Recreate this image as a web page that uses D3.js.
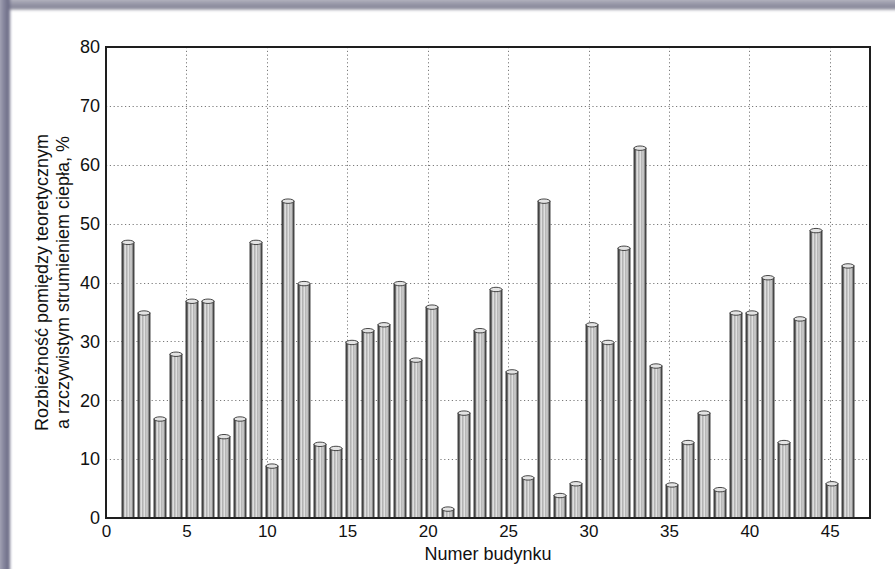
<!DOCTYPE html>
<html>
<head>
<meta charset="utf-8">
<script src="https://cdn.jsdelivr.net/npm/d3@7/dist/d3.min.js"></script>
<style>
  html, body { margin: 0; padding: 0; background: #fff; }
  svg { display: block; font-family: "Liberation Sans", Arial, sans-serif; }
</style>
</head>
<body>
<svg id="chart" width="895" height="569"></svg>
<script>
// Building numbers and heat-flux discrepancy (%)
const buildings = d3.range(1, 47);
const discrepancy = [
  47, 35, 17, 28, 37, 37, 14, 17, 47, 9,
  54, 40, 12.7, 12, 30, 32, 33, 40, 27, 36,
  1.7, 18, 32, 39, 25, 7, 54, 4, 6, 33,
  30, 46, 63, 26, 5.8, 13, 18, 5, 35, 35,
  41, 13, 34, 49, 6, 43
];
const xTicks = [0, 5, 10, 15, 20, 25, 30, 35, 40, 45];
const yTicks = [0, 10, 20, 30, 40, 50, 60, 70, 80];
const xTitle = "Numer budynku";
const yTitleLines = ["Rozbieżność pomiędzy teoretycznym", "a rzczywistym strumieniem ciepła, %"];

const svg = d3.select("#chart");
const W = 895, H = 569;
const plot = { left: 106, right: 870, top: 47, bottom: 518 };

const defs = svg.append("defs");

// Soft frame along the top and left edges
const blur = defs.append("filter").attr("id", "soft").attr("x", "-20%").attr("y", "-20%").attr("width", "140%").attr("height", "140%");
blur.append("feGaussianBlur").attr("stdDeviation", 1.6);

const gTop = defs.append("linearGradient").attr("id", "frameTop").attr("x1", 0).attr("y1", 0).attr("x2", 0).attr("y2", 1);
gTop.append("stop").attr("offset", "0%").attr("stop-color", "#c8c8d2");
gTop.append("stop").attr("offset", "55%").attr("stop-color", "#9a9aaa");
gTop.append("stop").attr("offset", "100%").attr("stop-color", "#7e7e90");

const gLeft = defs.append("linearGradient").attr("id", "frameLeft").attr("x1", 0).attr("y1", 0).attr("x2", 1).attr("y2", 0);
gLeft.append("stop").attr("offset", "0%").attr("stop-color", "#bcbccc");
gLeft.append("stop").attr("offset", "55%").attr("stop-color", "#86869c");
gLeft.append("stop").attr("offset", "100%").attr("stop-color", "#646480");

svg.append("rect").attr("width", W).attr("height", H).attr("fill", "#fff");
svg.append("rect").attr("x", -4).attr("y", -4).attr("width", W + 8).attr("height", 13.5)
  .attr("fill", "url(#frameTop)").attr("filter", "url(#soft)");
svg.append("rect").attr("x", -4).attr("y", -4).attr("width", 14).attr("height", H + 8)
  .attr("fill", "url(#frameLeft)").attr("filter", "url(#soft)");

// Cylinder shading for bars
const gBar = defs.append("linearGradient").attr("id", "barShade").attr("x1", 0).attr("y1", 0).attr("x2", 1).attr("y2", 0);
[
  ["0%", "#444"], ["12%", "#666"], ["20%", "#c4c4c4"], ["30%", "#e0e0e0"],
  ["40%", "#a4a4a4"], ["52%", "#eaeaea"], ["64%", "#b0b0b0"], ["76%", "#d6d6d6"],
  ["86%", "#969696"], ["94%", "#606060"], ["100%", "#444"]
].forEach(([o, c]) => gBar.append("stop").attr("offset", o).attr("stop-color", c));

// Scales
const x = d3.scaleLinear().domain([0, 47.5]).range([plot.left, plot.right]);
const y = d3.scaleLinear().domain([0, 80]).range([plot.bottom, plot.top]);
const xb = d3.scaleBand().domain(buildings)
  .range([x(0.87), x(46.63)]).paddingInner(0.25).paddingOuter(0.125);

// Grid
const grid = svg.append("g").attr("stroke", "#7a7a7a").attr("stroke-width", 1).attr("stroke-dasharray", "1.2,2.6");
grid.selectAll("line.v").data(xTicks.filter(t => t > 0)).join("line")
  .attr("x1", d => Math.round(x(d)) + 0.5).attr("x2", d => Math.round(x(d)) + 0.5)
  .attr("y1", plot.top).attr("y2", plot.bottom);
grid.selectAll("line.h").data(yTicks.filter(t => t > 0 && t < 80)).join("line")
  .attr("y1", d => Math.round(y(d)) + 0.5).attr("y2", d => Math.round(y(d)) + 0.5)
  .attr("x1", plot.left).attr("x2", plot.right);

// Bars
const capH = 2.2;
const bars = svg.append("g");
const rows = buildings.map((b, i) => ({ b, v: discrepancy[i] }));
bars.selectAll("rect").data(rows).join("rect")
  .attr("x", d => xb(d.b))
  .attr("y", d => y(d.v) + capH * 0.5)
  .attr("width", xb.bandwidth())
  .attr("height", d => y(0) - y(d.v) - capH * 0.5)
  .attr("fill", "url(#barShade)")
  .attr("stroke", "#333").attr("stroke-width", 0.9);
bars.selectAll("ellipse").data(rows).join("ellipse")
  .attr("cx", d => xb(d.b) + xb.bandwidth() / 2)
  .attr("cy", d => y(d.v) + capH * 0.5)
  .attr("rx", xb.bandwidth() / 2)
  .attr("ry", capH)
  .attr("fill", "#e4e4e4")
  .attr("stroke", "#333").attr("stroke-width", 0.9);

// Axes
const xAxis = d3.axisBottom(x).tickValues(xTicks).tickSize(0).tickPadding(8).tickFormat(d3.format("d"));
const yAxis = d3.axisLeft(y).tickValues(yTicks).tickSize(0).tickPadding(6).tickFormat(d3.format("d"));
const gx = svg.append("g").attr("transform", `translate(0,${plot.bottom})`).call(xAxis);
const gy = svg.append("g").attr("transform", `translate(${plot.left},0)`).call(yAxis);
[gx, gy].forEach(g => {
  g.select(".domain").remove();
  g.selectAll("text").attr("font-size", 18).attr("fill", "#111")
    .attr("font-family", "'Liberation Sans', Arial, sans-serif");
});
gx.selectAll("text").attr("font-size", 17).attr("dy", "0.62em");

// Plot frame
svg.append("rect")
  .attr("x", plot.left).attr("y", plot.top)
  .attr("width", plot.right - plot.left).attr("height", plot.bottom - plot.top)
  .attr("fill", "none").attr("stroke", "#1e1e1e").attr("stroke-width", 2);

// Titles
svg.append("text")
  .attr("x", (plot.left + plot.right) / 2).attr("y", 560)
  .attr("text-anchor", "middle").attr("font-size", 18).attr("fill", "#111")
  .text(xTitle);

const yt = svg.append("text")
  .attr("transform", `translate(48,${(plot.top + plot.bottom) / 2}) rotate(-90)`)
  .attr("text-anchor", "middle").attr("font-size", 18).attr("fill", "#111");
yTitleLines.forEach((line, i) => {
  yt.append("tspan").attr("x", 0).attr("dy", i === 0 ? 0 : 21).text(line);
});
</script>
</body>
</html>
